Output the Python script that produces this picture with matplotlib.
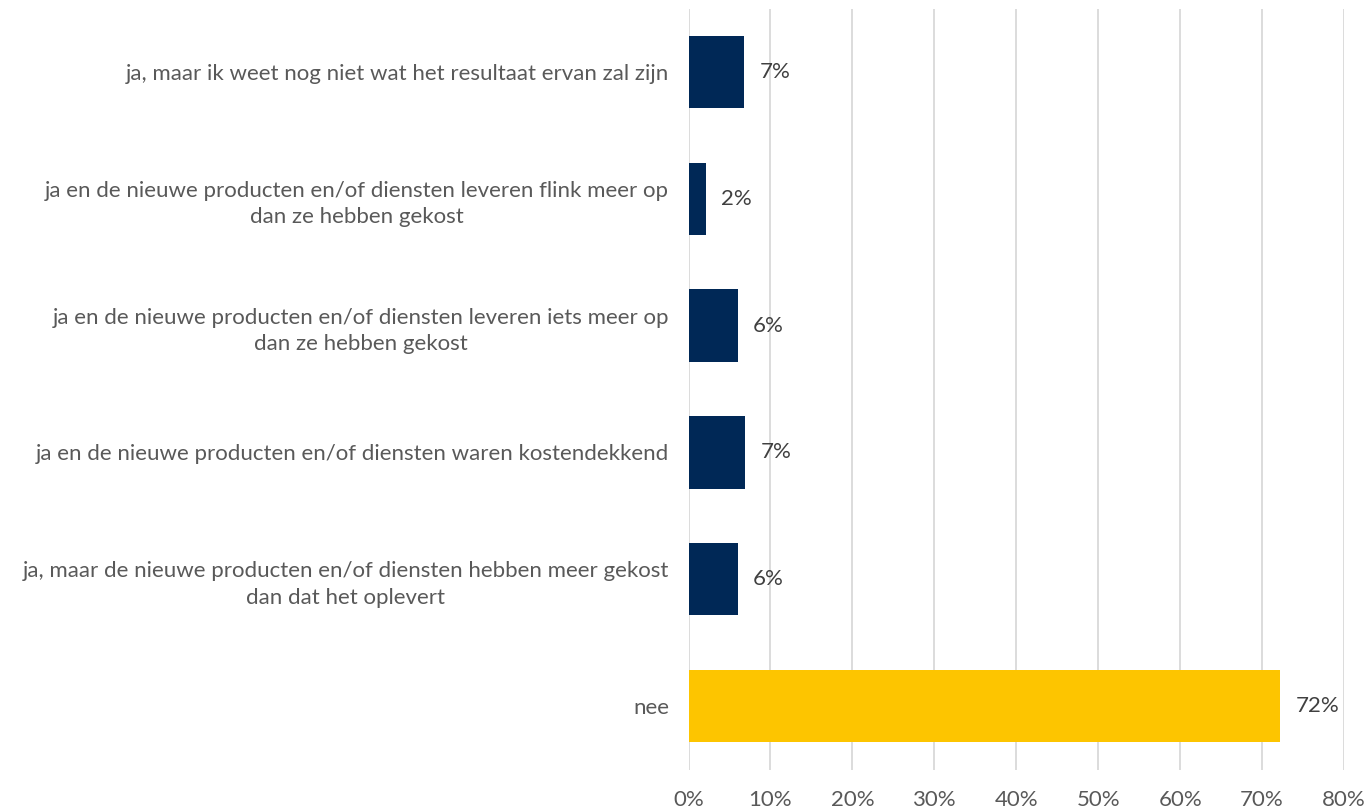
import matplotlib.pyplot as plt
import numpy as np

# answer categories, top to bottom as shown
categories = [
    "ja, maar ik weet nog niet wat het resultaat ervan zal zijn",
    "ja en de nieuwe producten en/of diensten leveren flink meer op\ndan ze hebben gekost",
    "ja en de nieuwe producten en/of diensten leveren iets meer op\ndan ze hebben gekost",
    "ja en de nieuwe producten en/of diensten waren kostendekkend",
    "ja, maar de nieuwe producten en/of diensten hebben meer gekost\ndan dat het oplevert",
    "nee",
]
values = [6.8, 2.1, 6.0, 6.9, 6.0, 72.2]
labels = ["7%", "2%", "6%", "7%", "6%", "72%"]
colors = ["#002856", "#002856", "#002856", "#002856", "#002856", "#FDC500"]
xticks = [0, 10, 20, 30, 40, 50, 60, 70, 80]

plt.rcParams['font.family'] = ['Lato', 'DejaVu Sans']

fig = plt.figure(figsize=(13.7, 8.09), dpi=100)
ax = fig.add_axes([688.5 / 1370, 1 - 769.5 / 809, (1344 - 688.5) / 1370, (769.5 - 8.5) / 809])

y = np.arange(len(categories))
ax.barh(y, values, height=0.57, color=colors, zorder=3)
for yi, v, lab in zip(y, values, labels):
    ax.text(v + 1.9, yi, lab, va='center', ha='left', fontsize=16, color='#404040')

ax.set_xlim(0, 80)
ax.set_ylim(len(categories) - 0.5, -0.5)
ax.set_yticks(y)
ax.set_yticklabels(categories, fontsize=16, color='#595959',
                   multialignment='center', linespacing=1.4)
ax.set_xticks(xticks)
ax.set_xticklabels([f"{t}%" for t in xticks], fontsize=16, color='#595959')
ax.tick_params(axis='both', length=0)
ax.tick_params(axis='y', pad=14)
ax.tick_params(axis='x', pad=15)
ax.grid(axis='x', color='#D9D9D9', linewidth=1.3, zorder=0)
for s in ax.spines.values():
    s.set_visible(False)

fig.savefig('out.png', dpi=100)
